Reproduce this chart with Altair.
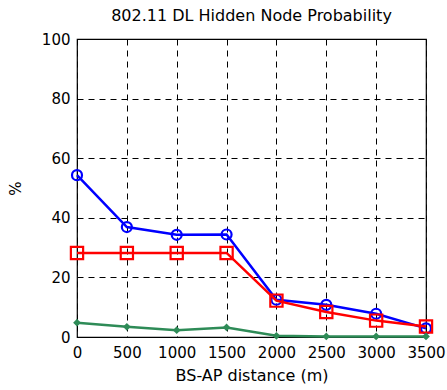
import altair as alt
import pandas as pd

distance = [0, 500, 1000, 1500, 2000, 2500, 3000, 3500]
blue_vals = [54.3, 36.9, 34.3, 34.4, 12.5, 10.8, 7.8, 2.9]
red_vals = [28.2, 28.2, 28.2, 28.2, 12.2, 8.4, 5.5, 3.5]
green_vals = [4.8, 3.4, 2.3, 3.2, 0.4, 0.2, 0.2, 0.2]

FONT = "DejaVu Sans"

def frame(vals, name):
    return pd.DataFrame({"x": distance, "y": vals, "s": name})

xenc = alt.X("x:Q", scale=alt.Scale(domain=[0, 3500], nice=False),
             axis=alt.Axis(values=distance, title="BS-AP distance (m)", format="d",
                           grid=True, gridColor="black", gridDash=[6, 5], gridOpacity=1,
                           gridWidth=1, ticks=False, domain=False,
                           labelFont=FONT, labelFontSize=15, labelColor="black",
                           labelPadding=8, labelFlush=False, labelOverlap=False,
                           titleFont=FONT, titleFontSize=16, titleFontWeight="normal",
                           titleColor="black", titlePadding=7))
yenc = alt.Y("y:Q", scale=alt.Scale(domain=[0, 100], nice=False),
             axis=alt.Axis(values=[0, 20, 40, 60, 80, 100], title="%",
                           grid=True, gridColor="black", gridDash=[6, 5], gridOpacity=1,
                           gridWidth=1, ticks=False, domain=False,
                           labelFont=FONT, labelFontSize=15, labelColor="black",
                           labelPadding=7, labelFlush=False,
                           titleFont=FONT, titleFontSize=15, titleFontWeight="normal",
                           titleColor="black", titlePadding=18))

def series(df, color, shape, size, filled):
    base = alt.Chart(df).encode(x=xenc, y=yenc)
    line = base.mark_line(color=color, strokeWidth=2.5)
    pts = base.mark_point(shape=shape, size=size, filled=filled, color=color,
                          strokeWidth=2.2, opacity=1)
    return [line, pts]

layers = []
layers += series(frame(blue_vals, "blue"), "#0000FF", "circle", 100, False)
layers += series(frame(red_vals, "red"), "#FF0000", "square", 150, False)
layers += series(frame(green_vals, "green"), "#2E8B57", "diamond", 60, True)

chart = alt.layer(*layers).properties(
    width=349, height=298,
    title=alt.TitleParams("802.11 DL Hidden Node Probability", font=FONT, fontSize=16,
                          fontWeight="normal", color="black", offset=8, anchor="middle"),
    autosize=alt.AutoSizeParams(type="none"),
    padding={"left": 77, "top": 39, "right": 21, "bottom": 53},
    background="white",
).configure_view(stroke="black", strokeWidth=1.2)

chart.save("out.html", embed_options={"renderer": "svg", "actions": False})
